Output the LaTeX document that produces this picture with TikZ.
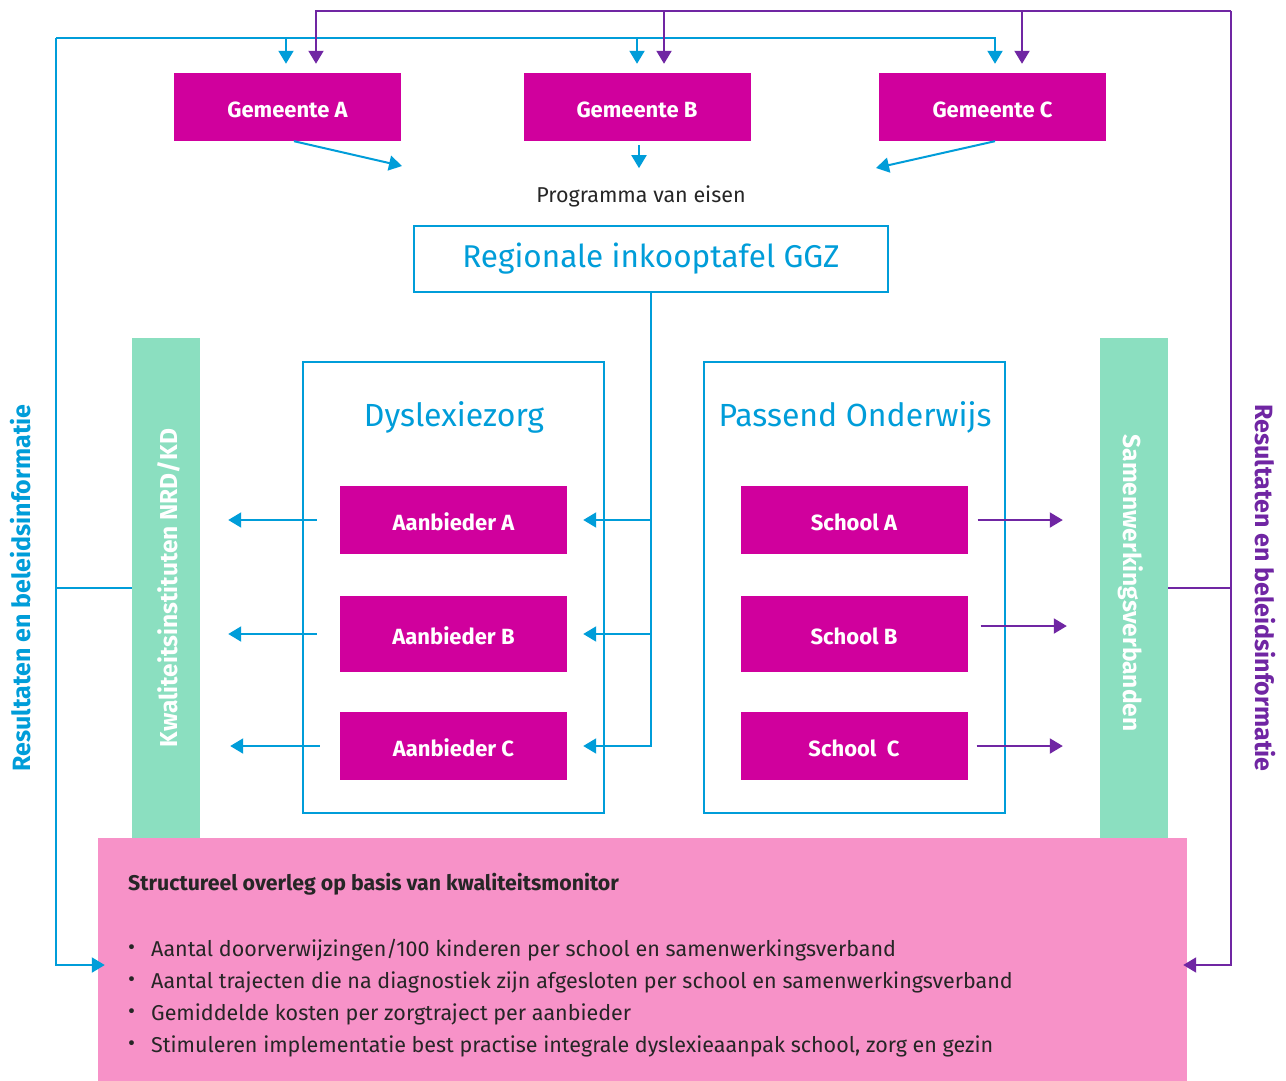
\documentclass[tikz,border=0pt]{standalone}
\usepackage{fontspec}
\setmainfont{Fira Sans}
\usetikzlibrary{arrows.meta,calc}
\definecolor{cblue}{RGB}{0,157,217}
\definecolor{cpurple}{RGB}{112,38,163}
\definecolor{cmag}{RGB}{208,0,157}
\definecolor{cgreen}{RGB}{139,223,192}
\definecolor{cpink}{RGB}{247,146,200}
\definecolor{ctext}{RGB}{38,38,38}
\tikzset{
  magbox/.style={fill=cmag, text=white, minimum width=227pt, minimum height=68pt, inner sep=0pt, text height=21pt, text depth=0pt, font=\fontsize{22}{26}\selectfont\bfseries},
  groupbox/.style={draw=cblue, line width=1.8pt, minimum width=301pt, minimum height=451pt, inner sep=0pt},
  bar/.style={fill=cgreen, minimum width=68pt, minimum height=500pt, inner sep=0pt},
  bartext/.style={text=white, font=\fontsize{24.5}{28}\selectfont\bfseries},
  sidelabel/.style={font=\fontsize{25}{28}\selectfont\bfseries},
  title/.style={text=cblue, font=\fontsize{32}{38}\selectfont},
  bline/.style={draw=cblue, line width=2pt},
  pline/.style={draw=cpurple, line width=2pt},
  btip/.style={-{Triangle[length=13pt,width=15pt]}},
  bullet/.style={anchor=west, text=ctext, inner sep=0pt, font=\fontsize{21.5}{24}\selectfont},
}
\begin{document}
\begin{tikzpicture}[x=1pt,y=-1pt]
\useasboundingbox (0,0) rectangle (1286,1081);
\fill[white] (0,0) rectangle (1286,1081);

% bars (behind pink box)
\node[bar] (kw) at (166,588) {};
\node[bar] (sw) at (1134,588) {};
\node[bartext, rotate=90] (kwt) at (169,588) {Kwaliteitsinstituten NRD/KD};
\node[bartext, rotate=-90] (swt) at (1131,583) {Samenwerkingsverbanden};

% pink box
\node[fill=cpink, minimum width=1089pt, minimum height=243pt, inner sep=0pt] (pink) at (642.5,959.5) {};
\node[anchor=west, text=ctext, inner sep=0pt, font=\fontsize{21.3}{24}\selectfont\bfseries] (ptitle) at (128,884) {Structureel overleg op basis van kwaliteitsmonitor};
\node[bullet] (b1d) at (128,950) {•};
\node[bullet] (b1) at (151,950) {Aantal doorverwijzingen/100 kinderen per school en samenwerkingsverband};
\node[bullet] (b2d) at (128,982) {•};
\node[bullet] (b2) at (151,982) {Aantal trajecten die na diagnostiek zijn afgesloten per school en samenwerkingsverband};
\node[bullet] (b3d) at (128,1014) {•};
\node[bullet] (b3) at (151,1014) {Gemiddelde kosten per zorgtraject per aanbieder};
\node[bullet] (b4d) at (128,1046) {•};
\node[bullet] (b4) at (151,1046) {Stimuleren implementatie best practise integrale dyslexieaanpak school, zorg en gezin};

% Gemeenten
\node[magbox] (gA) at (287.5,107) {Gemeente A};
\node[magbox] (gB) at (637,107) {Gemeente B};
\node[magbox] (gC) at (992.5,107) {Gemeente C};

\node[text=ctext, font=\fontsize{21.5}{24}\selectfont] (pve) at (641,196) {Programma van eisen};
\node[draw=cblue, line width=1.8pt, minimum width=474pt, minimum height=66pt, inner sep=0pt, text=cblue, font=\fontsize{31.5}{38}\selectfont] (reg) at (651,259) {Regionale inkooptafel GGZ};

% groups
\node[groupbox] (dys) at (453.5,587.5) {};
\node[title] (dyst) at (454,417) {Dyslexiezorg};
\node[groupbox] (po) at (854.5,587.5) {};
\node[title] (pot) at (855,417) {Passend Onderwijs};

\node[magbox] (aA) at (453.5,520) {Aanbieder A};
\node[magbox, minimum height=76pt] (aB) at (453.5,634) {Aanbieder B};
\node[magbox] (aC) at (453.5,746) {Aanbieder C};
\node[magbox] (sA) at (854,520) {School A};
\node[magbox, minimum height=76pt] (sB) at (854,634) {School B};
\node[magbox] (sC) at (854,746) {School~~C};

% side labels
\node[sidelabel, text=cblue, rotate=90] (ll) at (21,588) {Resultaten en beleidsinformatie};
\node[sidelabel, text=cpurple, rotate=-90] (rl) at (1265,588) {Resultaten en beleidsinformatie};

% blue outer loop
\coordinate (btl) at (56,38);
\draw[bline, btip, shorten >=9pt] (btl) -| ([xshift=2.5pt]gC.north);
\draw[bline, btip, shorten >=9pt] (btl -| gA.north) ++(-1.5,0) -- ([xshift=-1.5pt]gA.north);
\draw[bline, btip, shorten >=9pt] (btl -| gB.north) -- (gB.north);
\draw[bline, btip, shorten >=-7pt] (btl) |- ([yshift=-5.5pt]pink.west);
\draw[bline] (btl |- kw.west) -- (kw.west);

% purple outer loop
\coordinate (ptl) at (316,11);
\coordinate (ptr) at (1231,11);
\draw[pline, btip, shorten >=9pt] (ptr) -- (ptl) -- ([xshift=28.5pt]gA.north);
\draw[pline, btip, shorten >=9pt] (ptl -| gB.north) ++(27,0) -- ([xshift=27pt]gB.north);
\draw[pline, btip, shorten >=9pt] (ptl -| gC.north) ++(29.5,0) -- ([xshift=29.5pt]gC.north);
\draw[pline, btip, shorten >=-4pt] (ptr) |- ([yshift=-5.5pt]pink.east);
\draw[pline] (sw.east) -- (ptr |- sw.east);

% Gemeenten to Programma
\coordinate (pA) at (402,166);
\coordinate (pC) at (876,168);
\draw[bline, btip] ([xshift=6.5pt]gA.south) -- (pA);
\draw[bline, btip] ([xshift=2pt,yshift=-4pt]gB.south) -- ([xshift=2pt,yshift=-27pt]gB.south);
\draw[bline, btip] ([xshift=2.5pt]gC.south) -- (pC);

% Regionale to Aanbieders
\draw[bline, btip] (reg.south) |- ([xshift=16pt]aC.east);
\draw[bline, btip] (reg.south |- aA.east) -- ([xshift=16pt]aA.east);
\draw[bline, btip] (reg.south |- aB.east) -- ([xshift=16pt]aB.east);

% Aanbieders to Kwaliteitsinstituten
\draw[bline, btip] ([xshift=-23pt]aA.west) -- ([xshift=28pt]kw.east |- aA.west);
\draw[bline, btip] ([xshift=-23pt]aB.west) -- ([xshift=28pt]kw.east |- aB.west);
\draw[bline, btip] ([xshift=-20pt]aC.west) -- ([xshift=30pt]kw.east |- aC.west);

% Schools to Samenwerkingsverbanden
\draw[pline, btip] ([xshift=10pt]sA.east) -- ([xshift=-37pt]sw.west |- sA.east);
\draw[pline, btip] ([xshift=13pt,yshift=8pt]sB.east) -- ([xshift=-33pt,yshift=8pt]sw.west |- sB.east);
\draw[pline, btip] ([xshift=9pt]sC.east) -- ([xshift=-37pt]sw.west |- sC.east);
\end{tikzpicture}
\end{document}
